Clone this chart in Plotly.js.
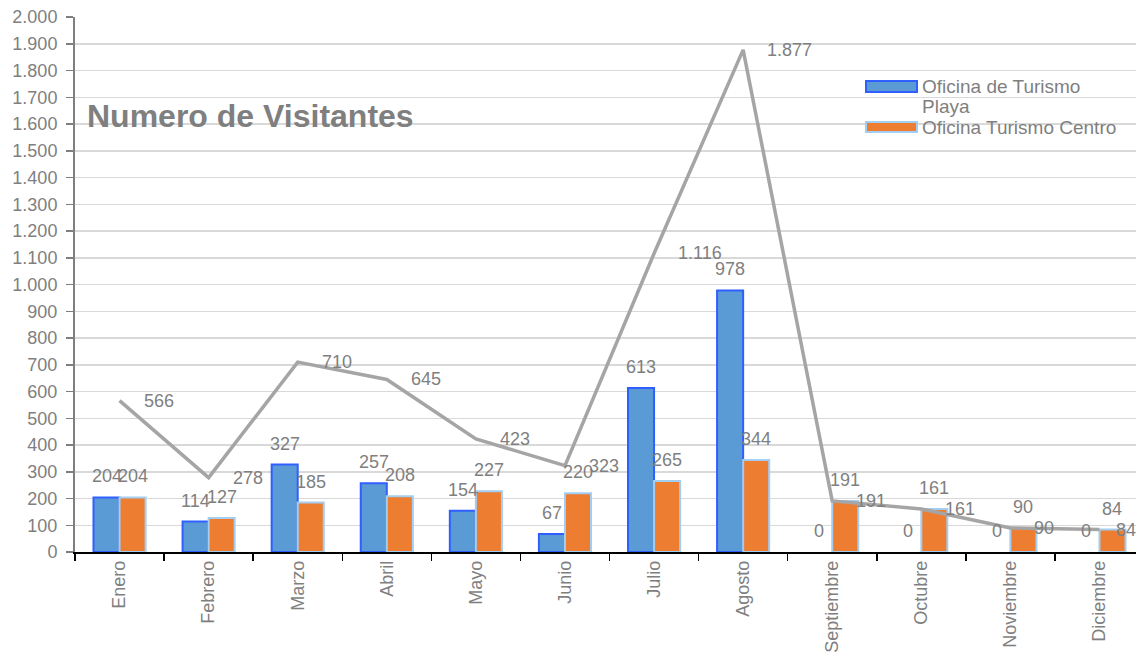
<!DOCTYPE html>
<html>
<head>
<meta charset="utf-8">
<script src="https://cdn.plot.ly/plotly-3.0.1.min.js"></script>
<style>html,body{margin:0;padding:0;background:#fff;}#chart{width:1136px;height:659px;}</style>
</head>
<body>
<div id="chart"></div>
<script>
const months = ["Enero","Febrero","Marzo","Abril","Mayo","Junio","Julio","Agosto","Septiembre","Octubre","Noviembre","Diciembre"];
const playa  = [204,114,327,257,154,67,613,978,0,0,0,0];
const centro = [204,127,185,208,227,220,265,344,191,161,90,84];
const total  = [566,278,710,645,423,323,1116,1877,191,161,90,84];
const seriesNames = ["Oficina de Turismo<br>Playa","Oficina Turismo Centro"];
const yTicks = [0,100,200,300,400,500,600,700,800,900,1000,1100,1200,1300,1400,1500,1600,1700,1800,1900,2000];

const gray = "#7f7f7f";
const fontFam = "Liberation Sans, Arial, sans-serif";
const blueFill = "#5b9bd5", blueLine = "#2f5fff";
const orangeFill = "#ed7d31", orangeLine = "#a4cdf2";

const traces = [
  {type:"bar", name:seriesNames[0], x:months, y:playa, showlegend:false,
   marker:{color:blueFill, line:{color:blueLine, width:playa.map(v=>v===0?0:2)}}},
  {type:"bar", name:seriesNames[1], x:months, y:centro, showlegend:false,
   marker:{color:orangeFill, line:{color:orangeLine, width:centro.map(v=>v===0?0:2)}}},
  {type:"scatter", mode:"lines", name:"Total", x:months, y:total, showlegend:false,
   line:{color:"#a5a5a5", width:3.5}}
];

function sep(v){ return String(v).replace(/\B(?=(\d{3})+(?!\d))/g, "."); }

const lblFont = {size:18,color:gray,family:fontFam};
const annotations = [];
months.forEach((m,i)=>{
  annotations.push({x:m, y:playa[i], text:sep(playa[i]), showarrow:false, xshift:-13, yshift:9, yanchor:"bottom", font:lblFont});
  annotations.push({x:m, y:centro[i], text:sep(centro[i]), showarrow:false, xshift:13, yshift:9, yanchor:"bottom", font:lblFont});
  annotations.push({x:m, y:total[i], text:sep(total[i]), showarrow:false, xshift:(i===months.length-1?15:22), xanchor:"left", yanchor:"middle", font:lblFont});
});
annotations.push({xref:"paper", yref:"paper", x:0.009, y:0.815, xanchor:"left", yanchor:"middle",
  text:"<b>Numero de Visitantes</b>", showarrow:false, font:{size:32, color:gray, family:fontFam}});

// legend (drawn manually to match wide swatches and tight line spacing)
const legFont = {size:19,color:gray,family:fontFam};
const px = v => (v-75)/1061;          // pixel x -> paper
const py = v => (552-v)/535;          // pixel y -> paper
const legLines = [...seriesNames[0].split("<br>"), seriesNames[1]];
const legY = [86, 106, 127];
legLines.forEach((t,k)=>{
  annotations.push({xref:"paper", yref:"paper", x:px(920), y:py(legY[k]), xanchor:"left", yanchor:"middle", align:"left",
    text:t, showarrow:false, font:legFont});
});
const shapes = [
  {type:"rect", xref:"paper", yref:"paper", x0:px(866), x1:px(917), y0:py(92), y1:py(81),
   fillcolor:blueFill, line:{color:blueLine, width:2}},
  {type:"rect", xref:"paper", yref:"paper", x0:px(866), x1:px(917), y0:py(132), y1:py(122),
   fillcolor:orangeFill, line:{color:orangeLine, width:2}}
];

const layout = {
  width:1136, height:659,
  margin:{l:75, r:0, t:17, b:107},
  paper_bgcolor:"#fff", plot_bgcolor:"#fff",
  separators:",.",
  showlegend:false,
  barmode:"group", bargap:0.415, bargroupgap:0,
  font:{family:fontFam, size:18, color:gray},
  xaxis:{type:"category", range:[-0.5, 11.41], showgrid:false,
    showline:true, linecolor:"#000", linewidth:1.5,
    ticks:"outside", tickson:"boundaries", ticklen:7, tickcolor:"#000", tickwidth:1.5,
    tickangle:-90, tickfont:{size:18,color:gray}},
  yaxis:{range:[0,2000], tickvals:yTicks, tickformat:",d", showgrid:true, gridcolor:"#d9d9d9", gridwidth:1.5,
    showline:true, linecolor:"#7f7f7f", linewidth:2, zeroline:false,
    ticks:"outside", ticklen:7, tickcolor:"#7f7f7f", tickwidth:1.5,
    ticklabelstandoff:5, tickfont:{size:18,color:gray}},
  annotations:annotations,
  shapes:shapes
};

Plotly.newPlot("chart", traces, layout, {displayModeBar:false, staticPlot:true});
</script>
</body>
</html>
